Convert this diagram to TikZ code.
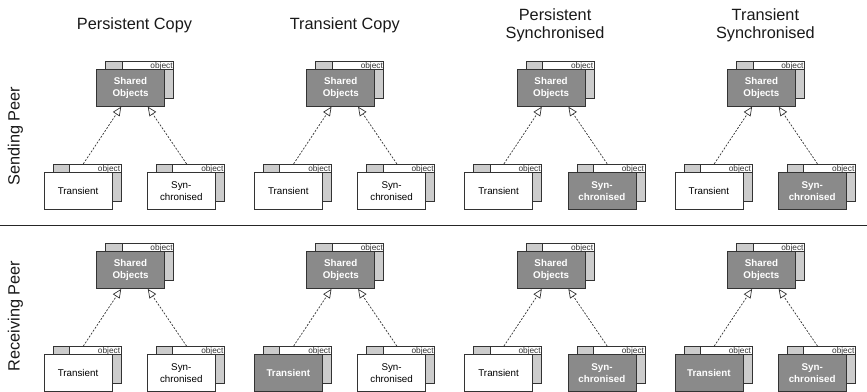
\documentclass[tikz,border=0pt]{standalone}
\usepackage{fontspec}
\setmainfont{Liberation Sans}
\usetikzlibrary{arrows.meta,calc}
\definecolor{darkg}{HTML}{8A8A8A}
\definecolor{lightg}{HTML}{CCCCCC}
\definecolor{edgec}{HTML}{333333}
\tikzset{
  edge/.style={draw=edgec, line width=0.8pt},
  frontbase/.style={edge, minimum width=68pt, minimum height=37pt, inner sep=0pt, align=center},
  darkbox/.style={frontbase, fill=darkg, text=white, font=\bfseries\fontsize{9.8}{11.7}\selectfont},
  lightbox/.style={frontbase, fill=white, text=black, font=\fontsize{9.8}{11.7}\selectfont},
  objlbl/.style={inner sep=0pt, text=edgec, font=\fontsize{8.3}{8.3}\selectfont},
  title/.style={align=center, text=black!90, font=\fontsize{16.3}{18.7}\selectfont},
  rowlbl/.style={rotate=90, text=black!90, font=\fontsize{16.3}{18.7}\selectfont},
  dep/.style={draw=edgec, line width=0.7pt, dash pattern=on 2pt off 1.5pt,
    -{Triangle[fill=white, length=9pt, width=8pt, line width=0.7pt]}},
  sep/.style={draw=black!85, line width=1pt}
}
% #1 name, #2 centre, #3 front style, #4 text
\newcommand{\objbox}[4]{%
  \begin{scope}[shift={#2}]
    \draw[edge, fill=lightg] (-25,-26.5) rectangle (43,10.5);
    \draw[edge, fill=white] (-8.5,-26.5) rectangle (43,-18.5);
    \draw[edge, fill=lightg] (-25,-26.5) rectangle (-8.5,-18.5);
    \node[objlbl, anchor=base east] at (42.3,-19.3) {object};
    \node[#3] (#1) at (0,0) {#4};
  \end{scope}}
% #1 id, #2 axis x, #3 shared y, #4 lower y, #5 T style, #6 S style
\newcommand{\objgroup}[6]{%
  \objbox{#1sh}{(#2-4,#3)}{darkbox}{Shared\\Objects}
  \objbox{#1tr}{(#2-56.5,#4)}{#5}{Transient}
  \objbox{#1sy}{(#2+46.8,#4)}{#6}{Syn-\\chronised}
  \draw[dep] ($(#1tr.north)+(5.3,-8)$) -- ($(#1sh.south)+(-9.3,0)$);
  \draw[dep] ($(#1sy.north)+(5.3,-8)$) -- ($(#1sh.south)+(17.3,0)$);
}
\begin{document}
\begin{tikzpicture}[x=1pt,y=-1pt]
  \useasboundingbox (0,0) rectangle (867,391);
  % titles
  \node[title] (t1) at (134.5,25) {Persistent Copy};
  \node[title] (t2) at (344.8,25) {Transient Copy};
  \node[title] (t3) at (555.1,25.4) {Persistent\\Synchronised};
  \node[title] (t4) at (765.4,25.4) {Transient\\Synchronised};
  % row labels
  \node[rowlbl] (lsend) at (15.5,136) {Sending Peer};
  \node[rowlbl] (lrecv) at (15.5,316) {Receiving Peer};
  % separator
  \draw[sep] (0,225.5) -- (867,225.5);
  % sending peer
  \objgroup{sa}{134.5}{87.8}{190.8}{lightbox}{lightbox}
  \objgroup{sb}{344.8}{87.8}{190.8}{lightbox}{lightbox}
  \objgroup{sc}{555.1}{87.8}{190.8}{lightbox}{darkbox}
  \objgroup{sd}{765.4}{87.8}{190.8}{lightbox}{darkbox}
  % receiving peer
  \objgroup{ra}{134.5}{270}{373}{lightbox}{lightbox}
  \objgroup{rb}{344.8}{270}{373}{darkbox}{lightbox}
  \objgroup{rc}{555.1}{270}{373}{lightbox}{darkbox}
  \objgroup{rd}{765.4}{270}{373}{darkbox}{darkbox}
\end{tikzpicture}
\end{document}
